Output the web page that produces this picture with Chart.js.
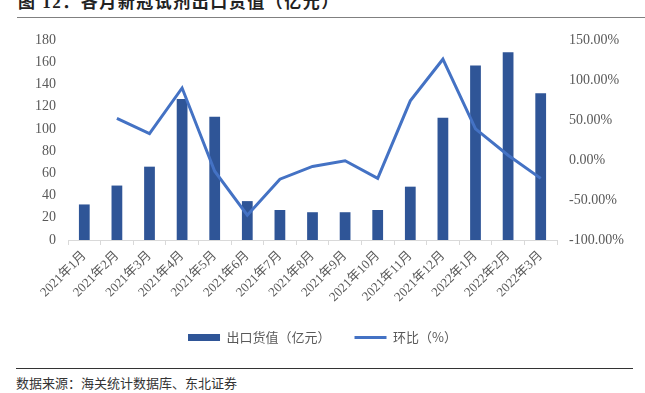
<!DOCTYPE html>
<html>
<head>
<meta charset="utf-8">
<script src="https://cdn.jsdelivr.net/npm/chart.js@4.4.1/dist/chart.umd.min.js"></script>
<style>
  html, body { margin: 0; padding: 0; background: #fff; }
  body { width: 645px; height: 393px; position: relative; overflow: hidden; font-family: "Liberation Serif", "Times New Roman", "Noto Sans CJK SC", serif; }
  #title { position: absolute; left: 18px; top: -12px; font-size: 17px; font-weight: bold; color: #222; white-space: nowrap; letter-spacing: 1.5px; font-family: "Liberation Serif", "Times New Roman", "Noto Sans CJK SC", serif; }
  #titleLine { position: absolute; left: 17px; right: 0; top: 17px; height: 0; border-top: 1.5px solid #808080; }
  #wrap { position: absolute; left: 0; top: 0; width: 645px; height: 354px; }
  #footLine { position: absolute; left: 16px; width: 617px; top: 368px; height: 0; border-top: 1px solid #333; }
  #source { position: absolute; left: 16px; top: 373px; font-size: 13px; color: #333; font-family: "Noto Sans CJK SC", sans-serif; white-space: nowrap; }
</style>
</head>
<body>
<div id="title">图 12：各月新冠试剂出口货值（亿元）</div>
<div id="titleLine"></div>
<div id="wrap"><canvas id="chart"></canvas></div>
<div id="footLine"></div>
<div id="source">数据来源：海关统计数据库、东北证券</div>
<script>
// Data
const months = ["2021年1月", "2021年2月", "2021年3月", "2021年4月", "2021年5月", "2021年6月", "2021年7月", "2021年8月",
  "2021年9月", "2021年10月", "2021年11月", "2021年12月", "2022年1月", "2022年2月", "2022年3月"];
const exportValue = [32, 49, 66, 127, 111, 35, 27, 25, 25, 27, 48, 110, 157, 169, 132];
const momChange = [null, 52, 33, 90, -14, -69, -24, -8, -1, -23, 74, 126, 39, 6, -23];

const leftTicks = { min: 0, max: 180, step: 20 };
const rightTicks = { min: -100, max: 150, step: 50 };

const barColor = "#2F5597";
const lineColor = "#4472C4";
const textColor = "#595959";
const serifStack = "'Liberation Serif', 'Times New Roman', 'Noto Sans CJK SC', serif";
const tickFont = { family: serifStack, size: 14 };

const ctx = document.getElementById("chart").getContext("2d");

new Chart(ctx, {
  type: "bar",
  data: {
    labels: months,
    datasets: [
      {
        type: "bar",
        label: "出口货值（亿元）",
        data: exportValue,
        backgroundColor: barColor,
        borderWidth: 0,
        barPercentage: 0.33,
        categoryPercentage: 1,
        yAxisID: "y",
        order: 1,
        pointStyle: "rect"
      },
      {
        type: "line",
        label: "环比（%）",
        data: momChange,
        borderColor: lineColor,
        backgroundColor: lineColor,
        borderWidth: 3,
        pointRadius: 0,
        tension: 0,
        yAxisID: "y1",
        order: 0,
        pointStyle: "line"
      }
    ]
  },
  options: {
    responsive: true,
    maintainAspectRatio: false,
    animation: false,
    layout: { padding: { top: 40, left: 0, right: 0, bottom: 0 } },
    plugins: {
      tooltip: { enabled: false },
      legend: {
        position: "bottom",
        labels: {
          usePointStyle: true,
          pointStyleWidth: 32,
          boxHeight: 7,
          padding: 24,
          color: textColor,
          font: { family: "'Noto Sans CJK SC', sans-serif", size: 13 },
          sort: (a, b) => a.datasetIndex - b.datasetIndex
        }
      }
    },
    scales: {
      x: {
        grid: { display: true, drawOnChartArea: false, drawTicks: true, tickLength: 5, color: "#d9d9d9", offset: true },
        border: { display: true, color: "#d9d9d9" },
        ticks: {
          color: textColor,
          font: { family: serifStack, size: 13 },
          minRotation: 45,
          maxRotation: 45,
          autoSkip: false,
          padding: 3
        },
        afterFit: s => { s.height = 67; }
      },
      y: {
        position: "left",
        min: leftTicks.min,
        max: leftTicks.max,
        grid: { display: false, drawTicks: false },
        border: { display: false },
        ticks: { stepSize: leftTicks.step, color: textColor, font: tickFont, padding: 12 },
        afterFit: s => { s.width = 68; }
      },
      y1: {
        position: "right",
        min: rightTicks.min,
        max: rightTicks.max,
        grid: { display: false, drawTicks: false },
        border: { display: false },
        ticks: { stepSize: rightTicks.step, color: textColor, font: tickFont, padding: 12, callback: v => v.toFixed(2) + "%" },
        afterFit: s => { s.width = 88; }
      }
    }
  }
});
</script>
</body>
</html>
